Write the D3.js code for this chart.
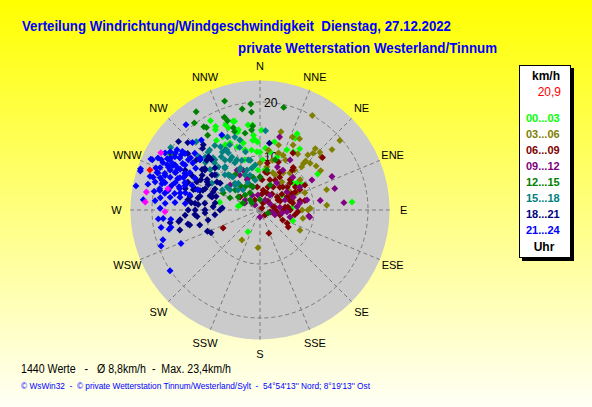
<!DOCTYPE html>
<html>
<head>
<meta charset="utf-8">
<script src="https://cdn.jsdelivr.net/npm/d3@7.9.0/dist/d3.min.js"></script>
<style>
  body { margin: 0; }
  svg { display: block; font-family: 'Liberation Sans', Arial, sans-serif; }
  text { white-space: pre; }
</style>
</head>
<body>
<svg id="chart" width="592" height="407"></svg>
<script>
const directions = ['N', 'NNE', 'NE', 'ENE', 'E', 'ESE', 'SE', 'SSE', 'S', 'SSW', 'SW', 'WSW', 'W', 'WNW', 'NW', 'NNW'];
const hourLabels = ['00...03', '03...06', '06...09', '09...12', '12...15', '15...18', '18...21', '21...24'];
const speedTicks = [10, 20];
const maxRing = 24;
const legendValue = '20,9';

// [direction in degrees, speed in km/h], one list per 3-hour block
const hours00to03 = [[331,18.9],[344,17.1],[339,16.3],[333,15.2],[328,15.2],[344,15.0],[358,12.6],[336,13.6],[340,12.4],[346,12.8],[352,11.2],[357,10.8],[3,9.3],[343,9.7],[335,10.2],[351,8.1],[10,10.9],[18,10.3],[24,12.2],[30,12.4],[33,13.5],[58,12.6],[85,17.1],[85,6.1],[108,6.4],[209,4.6],[280,4.1],[281,7.6],[354,13.0],[12,12.9],[26,15.7],[26,14.8],[0,10.7],[54,8.5],[59,9.1],[284,3.8],[331,17.0],[352,15.9],[332,13.7],[7,7.5],[56,4.9],[51,7.9],
  [332,17.5],[338,17.0],[343,17.2],[345,15.4],[344,13.5],[355,15.8],[355,13.9],[356,13.0],[346,11.5],[5,11.5],[1,14.8],[337,7.1],[357,7.4]];
const hours03to06 = [[29,20.0],[49,19.6],[50,17.4],[49,15.0],[41,13.5],[29,15.1],[24,14.8],[15,15.0],[73,12.9],[86,12.4],[101,8.1],[117,8.3],[211,6.5],[183,7.0],[44,11.1],[43,12.4],[27,13.5],[34,12.5],[47,12.7],[57,13.4],[90,8.9],[18,11.1],[23,11.0],[39,8.8],[38,6.6],[65,7.5],[73,6.2],[69,8.9],[19,7.3],[9,8.1],[0,8.7],[90,7.8],[88,9.3],[14,9.5],[32,8.1],[53,9.3],[43,11.8],[43,14.4],[52,13.2],[55,6.4],[46,15.4],[42,15.3],
  [8,11.2],[16,12.5],[27,10.4],[41,9.8],[23,7.1]];
const hours06to09 = [[159,4.6],[121,6.1],[116,5.6],[30,12.2],[244,7.6],[0,6.1],[18,5.9],[41,5.6],[48,7.5],[22,3.4],[53,4.0],[64,5.6],[78,6.2],[77,2.5],[90,4.3],[23,1.4],[63,8.3],[353,4.3],[97,3.2],[21,9.5],[38,10.0],[9,8.8],[338,5.0],[303,4.4],[11,7.0],[31,7.1],[30,4.9],[50,6.6],[65,5.7],[61,3.8],[90,2.8],[83,4.7],[9,3.7],[63,7.3],[39,9.5],[50,15.1],[78,8.5],[93,7.0],[114,4.6],[135,1.3],[61,9.5],
  [8,7.1],[28,7.9],[4,5.6],[27,6.2],[45,7.9],[19,4.5],[45,6.0],[57,7.8],[7,3.0],[37,3.7],[54,5.0],[63,6.6],[42,2.2],[66,4.1],[73,5.8],[77,7.6],[79,2.8],[84,5.2],
  [45,0.5],[333,2.1],[101,1.9],[104,3.8],[90,5.6],[98,6.5]];
const hours09to12 = [[65,14.7],[74,14.4],[85,15.6],[97,9.1],[60,11.1],[98,4.1],[15,14.0],[22,8.6],[180,1.3],[103,5.7],[330,8.5],[330,7.5],[337,6.1],[343,4.5],[32,5.9],[56,6.0],[69,6.6],[82,3.7],[100,2.3],[94,5.0],[85,6.9],[78,8.9],[60,8.5],[45,8.6],[30,8.5],[98,9.3],[80,7.5],[34,3.3],[304,3.3],[31,10.8],[310,7.2],[81,11.3],
  [337,8.0],[339,6.3],[321,5.3],[332,3.1],[295,3.1],[68,5.0],[59,2.2],[315,1.3],[27,2.1],[352,2.8],[108,2.9]];
const hours12to15 = [[342,21.2],[350,19.0],[355,19.7],[355,18.2],[13,19.5],[339,18.4],[340,17.6],[342,16.0],[355,15.6],[354,14.9],[327,21.7],[323,20.2],[327,18.2],[349,14.5],[342,15.3],[292,3.4],[111,1.6],[295,7.5],[292,6.0],[301,4.7],[330,3.7],[343,4.5],[0,6.1],[10,7.5],[348,6.2],[327,5.1],[311,2.0],[0,1.9],[315,2.6],[325,16.9],[326,18.6],[302,19.5],[321,5.9],[22,5.0],[17,9.7],[325,8.0],
  [315,3.9],[309,5.9],[338,5.0],[319,8.5]];
const hours15to18 = [[317,17.3],[311,15.1],[314,14.1],[310,14.5],[316,12.1],[324,12.2],[331,12.1],[321,10.3],[305,20.2],[336,14.8],[341,14.3],[344,13.5],[4,14.7],[328,13.8],[331,12.7],[332,11.1],[325,11.3],[316,11.1],[332,9.9],[340,9.8],[342,7.8],[311,13.4],[309,11.9],[309,10.3],[304,8.9],[321,7.9],[321,6.4],[305,7.4],[330,12.9],[335,10.2],[320,8.0],[320,4.9],[304,6.7],[318,13.0],[342,12.2],[344,6.7],[354,8.4],[320,14.5],
  [325,14.6],[335,13.3],[318,14.4],[327,12.8],[346,11.1],[318,12.5],[329,10.8],[349,9.4],[320,10.1],[335,8.6],[349,7.9],[318,8.8],[337,7.1],[299,10.2],[317,6.8],[336,5.5],[298,7.9],[312,5.5],
  [333,8.3],[347,9.5],[315,6.5],[351,5.6],[315,9.2]];
const hours18to21 = [[248,10.5],[256,15.3],[263,14.9],[270,13.3],[270,12.0],[270,10.2],[274,8.7],[270,7.4],[287,8.5],[281,11.7],[276,12.8],[259,9.8],[310,19.7],[308,17.0],[296,13.4],[297,12.3],[296,10.7],[306,12.6],[316,13.0],[288,11.7],[278,13.5],[291,9.3],[313,18.3],[317,15.6],[313,13.5],[8,12.5],[245,10.0],[262,15.2],[259,13.6],[262,16.8],[267,10.2],[264,11.7],[319,16.0],[316,13.7],[305,13.1],[300,11.3],[304,8.9],[285,9.2],[273,7.0],[289,11.2],[308,15.0],[298,15.7],[287,12.9],[308,10.6],[275,11.5],
  [307,12.8],[313,11.4],[297,14.2],[301,12.5],[306,11.0],[291,14.3],[294,12.8],[298,11.1],[303,9.5],[286,14.4],[288,12.6],[291,10.9],[295,9.2],[281,13.2],[283,11.4],[286,9.6],[276,12.1],[277,10.3],[279,8.4],[266,13.9],[266,12.1],[264,8.4],[258,13.3],[256,11.5]];
const hours21to24 = [[319,20.9],[303,19.8],[306,19.0],[295,22.3],[297,20.5],[299,19.6],[302,18.6],[305,17.8],[289,23.4],[288,23.3],[292,20.8],[281,23.4],[287,21.3],[285,20.1],[283,21.3],[281,18.9],[280,19.9],[277,18.6],[275,19.5],[275,21.7],[274,17.6],[271,18.5],[265,18.9],[265,18.0],[264,16.6],[260,18.6],[259,16.8],[253,18.8],[250,19.5],[247,15.9],[236,20.1],[258,17.2],[320,16.9],[315,17.7],[307,18.0],[295,22.0],[287,20.7],[287,19.0],[299,19.1],[298,17.8],[297,16.6],[301,16.2],[298,14.7],[291,16.3],[288,14.6],[286,16.9],[290,18.7],[282,17.4],[282,15.1],[290,13.4],[296,13.4],[305,16.2],[294,17.1],[293,15.4],[294,18.2],[285,18.8],[282,13.3],[288,12.1],[297,18.1],[290,20.1],[296,19.1],[295,15.2],[286,15.6],[303,14.2],[310,14.5],
  [301,20.5],[304,18.9],[307,17.4],[311,16.0],[297,21.2],[300,19.2],[303,17.7],[307,16.1],[311,14.7],[296,20.0],[298,18.3],[301,16.7],[305,15.2],[293,20.1],[295,18.7],[297,17.1],[290,20.3],[291,18.9],[294,17.2],[296,15.5],[288,19.4],[290,17.7],[292,16.0],[286,18.3],[288,16.5],[290,14.8],[282,19.0],[284,17.2],[285,15.4],[280,17.9],[281,16.1],[283,14.2],[278,16.8],[279,15.0],[275,15.8],[275,13.9],[333,15.6]];
const magentaPoints = [[300,21.2],[283,17.5],[279,21.3],[274,21.3],[269,17.6]];
const redPoints = [[290,21.7]];

const hourSeries = [hours00to03, hours03to06, hours06to09, hours09to12, hours12to15, hours15to18, hours18to21, hours21to24];
const hourColors = ['#00ff00', '#808000', '#800000', '#800080', '#008000', '#008080', '#000080', '#0000ff'];

const svg = d3.select('#chart');
const cx = 260;
const cy = 210;

// background
const grad = svg.append('defs').append('linearGradient')
  .attr('id', 'bg').attr('x1', 0).attr('y1', 0).attr('x2', 0).attr('y2', 1);
grad.append('stop').attr('offset', '0%').attr('stop-color', '#ffff00');
grad.append('stop').attr('offset', '100%').attr('stop-color', '#fffff6');
svg.append('rect').attr('width', 592).attr('height', 407).attr('fill', 'url(#bg)');

// titles
svg.append('text').attr('x', 22).attr('y', 31)
  .attr('font-size', 14).attr('font-weight', 'bold').attr('fill', '#0000ff')
  .attr('textLength', 429).attr('lengthAdjust', 'spacingAndGlyphs')
  .text('Verteilung Windrichtung/Windgeschwindigkeit  Dienstag, 27.12.2022');
svg.append('text').attr('x', 238).attr('y', 53)
  .attr('font-size', 14).attr('font-weight', 'bold').attr('fill', '#0000ff')
  .attr('textLength', 259).attr('lengthAdjust', 'spacingAndGlyphs')
  .text('private Wetterstation Westerland/Tinnum');

// polar scales
const rScale = d3.scaleLinear().domain([0, maxRing]).range([0, 129.6]);
const angle = d3.scaleLinear().domain([0, 360]).range([0, 2 * Math.PI]);
const px = (dir, spd) => cx + rScale(spd) * Math.sin(angle(dir));
const py = (dir, spd) => cy - rScale(spd) * Math.cos(angle(dir));

const polar = svg.append('g');
polar.append('circle').attr('cx', cx).attr('cy', cy).attr('r', rScale(maxRing)).attr('fill', '#cbcbcb');

const dirStep = 360 / directions.length;
directions.forEach((d, i) => {
  polar.append('line')
    .attr('x1', cx).attr('y1', cy)
    .attr('x2', px(i * dirStep, maxRing)).attr('y2', py(i * dirStep, maxRing))
    .attr('stroke', '#7a7a7a').attr('stroke-dasharray', '4,3');
  polar.append('text')
    .attr('x', cx + (rScale(maxRing) + 14) * Math.sin(angle(i * dirStep)))
    .attr('y', cy - (rScale(maxRing) + 14) * Math.cos(angle(i * dirStep)))
    .attr('text-anchor', 'middle').attr('dominant-baseline', 'central')
    .attr('font-size', 11).attr('fill', '#000')
    .text(d);
});

speedTicks.forEach((t) => {
  polar.append('circle').attr('cx', cx).attr('cy', cy).attr('r', rScale(t))
    .attr('fill', 'none').attr('stroke', '#7a7a7a').attr('stroke-dasharray', '4,3');
  polar.append('text').attr('x', cx + 4).attr('y', cy - rScale(t) + 1)
    .attr('dominant-baseline', 'central').attr('font-size', 12).attr('fill', '#000')
    .text(t);
});

// points
const diamond = d3.symbol().type(d3.symbolSquare).size(24);
function drawPoints(data, color) {
  polar.append('g').selectAll('path')
    .data(data)
    .join('path')
    .attr('d', diamond)
    .attr('transform', (d) => `translate(${px(d[0], d[1])},${py(d[0], d[1])}) rotate(45)`)
    .attr('fill', color);
}
hourSeries.forEach((s, i) => drawPoints(s, hourColors[i]));
drawPoints(magentaPoints, '#ff00ff');
drawPoints(redPoints, '#ff0000');

// legend
const legend = svg.append('g');
legend.append('rect').attr('x', 522).attr('y', 68).attr('width', 52).attr('height', 193).attr('fill', '#000');
legend.append('rect').attr('x', 519.5).attr('y', 65.5).attr('width', 51).attr('height', 192)
  .attr('fill', '#fff').attr('stroke', '#000');
legend.append('text').attr('x', 546).attr('y', 80).attr('text-anchor', 'middle')
  .attr('font-size', 12).attr('font-weight', 'bold').text('km/h');
legend.append('text').attr('x', 561).attr('y', 96).attr('text-anchor', 'end')
  .attr('font-size', 12).attr('fill', '#ff0000').text(legendValue);
hourLabels.forEach((h, i) => {
  legend.append('text').attr('x', 526).attr('y', 122 + i * 16)
    .attr('font-size', 11).attr('font-weight', 'bold').attr('fill', hourColors[i])
    .text(h);
});
legend.append('text').attr('x', 544).attr('y', 251).attr('text-anchor', 'middle')
  .attr('font-size', 12).attr('font-weight', 'bold').text('Uhr');

// bottom texts
svg.append('text').attr('x', 21).attr('y', 373).attr('font-size', 12).attr('fill', '#000')
  .attr('textLength', 210).attr('lengthAdjust', 'spacingAndGlyphs')
  .text('1440 Werte   -   Ø 8,8km/h  -  Max. 23,4km/h');
svg.append('text').attr('x', 21).attr('y', 389).attr('font-size', 9).attr('fill', '#0000ff')
  .attr('textLength', 349).attr('lengthAdjust', 'spacingAndGlyphs')
  .text('© WsWin32  -  © private Wetterstation Tinnum/Westerland/Sylt  -  54°54\'13\'\' Nord; 8°19\'13\'\' Ost');
</script>
</body>
</html>
